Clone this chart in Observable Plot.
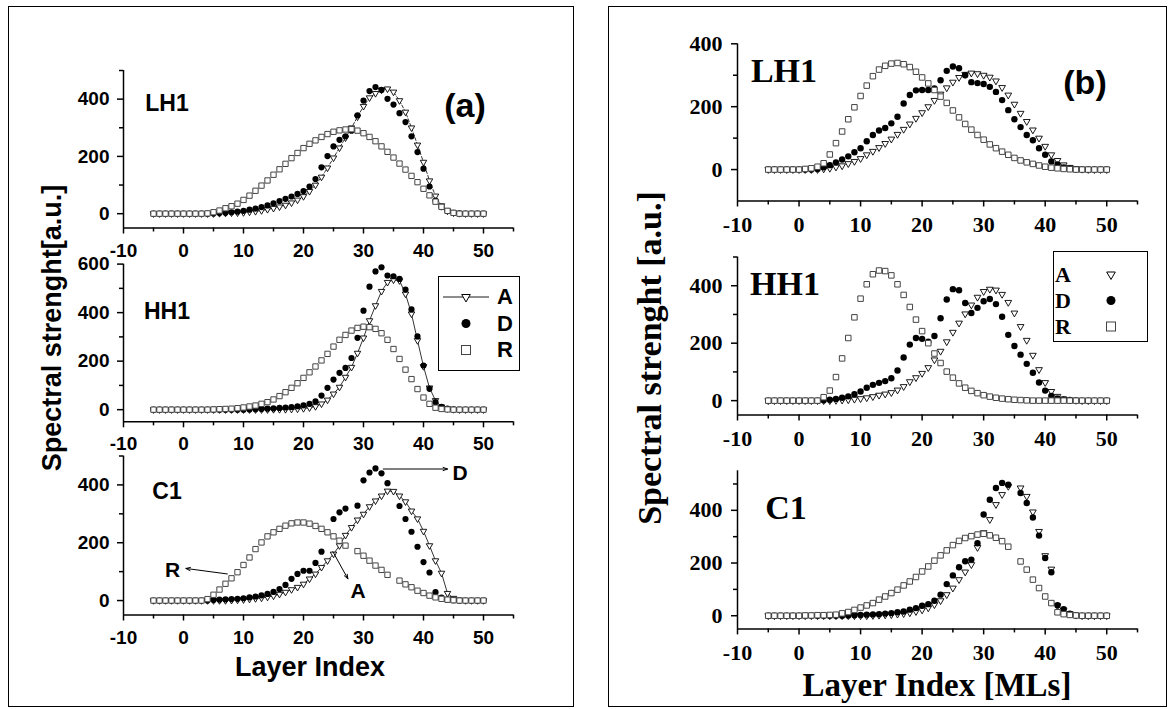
<!DOCTYPE html>
<html><head><meta charset="utf-8">
<script src="https://cdn.jsdelivr.net/npm/d3@7"></script>
<script src="https://cdn.jsdelivr.net/npm/@observablehq/plot@0.6"></script>
<style>
body{margin:0;background:#fff;}
#root{position:relative;width:1169px;height:709px;overflow:hidden;background:#fff;}
</style></head>
<body><div id="root"></div>
<script>
// ---------------- DATA ----------------
const layerIndex = [-5,-4,-3,-2,-1,0,1,2,3,4,5,6,7,8,9,10,11,12,13,14,15,16,17,18,19,20,21,22,23,24,25,26,27,28,29,30,31,32,33,34,35,36,37,38,39,40,41,42,43,44,45,46,47,48,49,50];
const seriesNames = ["A", "D", "R"];
const xDomain = [-10, 55];
const xMajorTicks = [-10, 0, 10, 20, 30, 40, 50];
const xMinorTicks = [-5, 5, 15, 25, 35, 45, 55];

// panel (a)
const a_LH1_A = [0,0,0,0,0,0,0,0,0,0, 0,1,2,3,3,4,6,8,11,15, 19,24,30,38,48,60,78,100,128,160, 195,230,265,300,338,375,405,420,432,436, 425,395,355,300,240,180,115,62,28,10, 3,1,0,0,0,0];
const a_LH1_D = [0,0,0,0,0,0,0,0,0,0, 1,2,3,5,7,10,14,18,23,29, 36,44,52,60,69,79,95,121,162,201, 235,258,270,290,343,395,428,442,432,401, 381,351,320,270,215,157,95,46,23,9, 3,1,0,0,0,0];
const a_LH1_R = [0,0,0,0,0,0,0,0,0,1, 5,11,19,26,35,48,63,80,98,116, 136,155,174,194,212,229,244,256,268,278, 286,291,294,295,290,281,268,253,235,216, 196,175,154,132,110,87,64,42,24,10, 3,0,0,0,0,0];

const a_HH1_A = [0,0,0,0,0,0,0,0,0,0, 0,0,0,0,0,0,0,0,0,0, 1,1,1,2,3,5,8,13,24,40, 65,93,134,175,233,296,367,429,488,525, 535,532,477,395,285,178,90,38,12,4, 1,0,0,0,0,0];
const a_HH1_D = [0,0,0,0,0,0,0,0,0,0, 0,0,0,0,0,0,1,2,3,4, 5,7,9,11,14,18,24,34,58,90, 124,152,172,213,296,408,507,570,587,553, 550,539,495,413,302,182,86,31,12,4, 1,0,0,0,0,0];
const a_HH1_R = [0,0,0,0,0,0,0,0,0,0, 1,2,3,4,6,9,13,17,24,31, 42,56,72,90,109,131,154,178,203,230, 260,288,308,326,337,342,340,333,315,288, 250,209,165,126,85,50,24,8,3,1, 0,0,0,0,0,0];

const a_C1_A = [0,0,0,0,0,0,0,0,0,0, 0,0,0,1,2,3,5,7,9,12, 16,22,29,38,46,57,75,92,115,138, 161,190,226,253,279,299,325,345,362,379, 378,362,342,310,283,240,190,138,95,25, 8,2,0,0,0,0];
const a_C1_D = [0,0,0,0,0,0,0,0,0,0, 2,3,4,5,6,8,11,14,18,23, 30,40,54,75,92,103,103,130,169,null, 282,305,318,null,328,416,443,457,440,406, null,327,282,238,186,133,97,29,10,3, 1,0,0,0,0,0];
const a_C1_R = [0,0,0,0,0,0,0,0,0,5, 20,38,58,77,98,123,149,178,201,222, 236,248,259,267,270,270,266,258,248,236, 222,207,190,null,171,155,138,121,106,89, null,69,56,46,34,26,17,11,6,3, 1,0,0,0,0,0];

// panel (b)
const b_LH1_A = [0,0,0,0,0,0,0,0,0,2, 4,8,12,19,26,35,47,58,70,83, 97,112,128,145,163,181,200,220,240,260, 278,293,303,307,305,300,294,282,261,237, 208,179,153,126,100,74,47,29,15,7, 3,1,0,0,0,0];
const b_LH1_D = [0,0,0,0,0,0,0,0,2,7, 14,23,32,42,55,68,90,110,124,132, 147,168,210,237,252,253,253,258,284,314, 328,322,300,278,275,272,263,247,221,189, 160,135,110,93,68,47,26,16,7,3, 1,0,0,0,0,0];
const b_LH1_R = [0,0,0,0,0,0,2,4,9,20, 48,84,121,160,198,234,267,297,318,330, 337,339,335,326,311,293,274,253,232,212, 188,166,145,127,110,95,80,68,57,47, 37,29,23,18,13,9,6,4,2,1, 0,0,0,0,0,0];

const b_HH1_A = [0,0,0,0,0,0,0,0,0,0, 0,1,2,3,5,7,10,14,19,23, 28,37,49,66,80,95,115,142,172,205, 238,270,302,333,360,380,388,385,370,342, 305,258,210,158,108,63,32,15,6,2, 1,0,0,0,0,0];
const b_HH1_D = [0,0,0,0,0,0,0,0,0,1, 3,6,10,15,22,32,45,55,62,68, 78,105,150,195,218,215,205,225,287,352, 388,384,340,305,323,346,354,336,292,229, 190,160,128,97,63,35,16,8,4,2, 1,0,0,0,0,0];
const b_HH1_R = [0,0,0,0,0,0,0,0,0,12, 35,82,147,218,290,355,405,440,453,451, 436,405,368,326,282,242,200,164,131,101, 80,60,45,34,26,19,14,10,7,5, 3,2,1,0,0,0,0,0,0,0, 0,0,0,0,0,0];

const b_C1_A = [0,0,0,0,0,0,0,0,0,0, 0,0,0,0,0,0,0,1,2,3, 4,6,8,11,16,22,30,42,57,80, 105,137,166,194,259,315,365,422,460,491, null,485,453,394,320,228,177,38,22,8, 2,0,0,0,0,0];
const b_C1_D = [0,0,0,0,0,0,0,0,0,0, 0,0,0,1,2,3,4,5,6,8, 10,13,16,23,29,38,44,57,80,120, 153,184,207,213,275,384,440,485,504,497, null,466,428,373,304,219,165,40,25,8, 2,0,0,0,0,0];
const b_C1_R = [0,0,0,0,0,0,1,1,2,2, 3,4,9,14,22,31,39,48,61,73, 86,99,115,130,147,168,187,209,229,248, 268,284,295,302,308,311,305,296,283,262, null,206,175,137,105,73,48,13,6,3, 1,0,0,0,0,0];

// y axis tick labels
const aLH1_yMajor = [0, 200, 400], aLH1_yMinor = [100, 300, 500];
const aHH1_yMajor = [0, 200, 400, 600], aHH1_yMinor = [100, 300, 500];
const aC1_yMajor = [0, 200, 400], aC1_yMinor = [100, 300, 500];
const bLH1_yMajor = [0, 200, 400], bLH1_yMinor = [100, 300];
const bHH1_yMajor = [0, 200, 400], bHH1_yMinor = [100, 300, 500];
const bC1_yMajor = [0, 200, 400], bC1_yMinor = [100, 300, 500];

// annotations of panel (a) C1 (arrow start/end and label, data units)
const annotLabel = ["D", "R", "A"];
const annotX1 = [33.3, 7.3, 24.9];
const annotY1 = [455, 92, 169];
const annotX2 = [44.0, 0.4, 27.4];
const annotY2 = [455, 111, 75];
const annotTx = [46.1, -1.8, 29.1];
const annotTy = [440, 106, 33];

// ---------------- DRAWING ----------------
const SANS = "'Liberation Sans', Arial, Helvetica, sans-serif";
const SERIF = "'Liberation Serif', 'Times New Roman', Times, serif";
const root = document.getElementById("root");

function rows(vals) {
  return layerIndex.map((x, i) => ({x, y: vals[i]})).filter(d => d.y != null);
}

function addText(txt, cx, cy, size, family, rotate = 0) {
  const d = document.createElement("div");
  d.textContent = txt;
  Object.assign(d.style, {
    position: "absolute", left: cx + "px", top: cy + "px",
    transform: `translate(-50%,-50%) rotate(${rotate}deg)`,
    font: `bold ${size}px ${family}`, lineHeight: "1", whiteSpace: "nowrap", color: "#000"
  });
  root.appendChild(d);
}

function addBox(l, t, w, h) {
  const d = document.createElement("div");
  Object.assign(d.style, {position: "absolute", left: l + "px", top: t + "px", width: w + "px", height: h + "px",
    border: "1.5px solid #000", boxSizing: "border-box"});
  root.appendChild(d);
}

function panel(cfg) {
  const fam = cfg.serif ? SERIF : SANS;
  const ml = cfg.xPx[0] - cfg.left, mr = cfg.left + cfg.width - cfg.xPx[1];
  const mt = cfg.yPx[1] - cfg.top, mb = cfg.top + cfg.height - cfg.yPx[0];
  const fs = cfg.fontSize;
  const marks = [
    Plot.axisX({ticks: xMajorTicks, tickSize: 6, tickPadding: cfg.padX, tickFormat: d => String(d), strokeWidth: 1.5, label: null, fontSize: fs, fontWeight: "bold", fontFamily: fam}),
    Plot.axisX({ticks: xMinorTicks, tickSize: 4, tickFormat: () => "", strokeWidth: 1.5, label: null}),
    Plot.axisY({ticks: cfg.yMajor, tickSize: 6, tickPadding: cfg.padY, tickFormat: d => String(d), strokeWidth: 1.5, label: null, fontSize: fs, fontWeight: "bold", fontFamily: fam}),
    Plot.axisY({ticks: cfg.yMinor, tickSize: 4, tickFormat: () => "", strokeWidth: 1.5, label: null}),
    Plot.ruleY([cfg.yDomain[0]], {x1: xDomain[0], x2: xDomain[1], strokeWidth: 1.5}),
    Plot.ruleX([xDomain[0]], {y1: cfg.yDomain[0], y2: cfg.yDomain[1], strokeWidth: 1.5}),
  ];
  const A = rows(cfg.A), D = rows(cfg.D), R = rows(cfg.R);
  if (cfg.lineA) marks.push(Plot.line(A, {x: "x", y: "y", stroke: "#000", strokeWidth: 0.8, strokeDasharray: cfg.dash || null}));
  marks.push(Plot.dot(A, {x: "x", y: "y", symbol: "triangle", rotate: 180, r: cfg.rTri, fill: "white", stroke: "#000", strokeWidth: 0.9}));
  marks.push(Plot.dot(D, {x: "x", y: "y", symbol: "circle", r: cfg.rCir, fill: "#000", stroke: "none"}));
  marks.push(Plot.dot(R, {x: "x", y: "y", symbol: "square", r: cfg.rSq, fill: "white", stroke: "#444", strokeWidth: 1}));
  if (cfg.annot) {
    const ar = annotLabel.map((t, i) => ({t, x1: annotX1[i], y1: annotY1[i], x2: annotX2[i], y2: annotY2[i], tx: annotTx[i], ty: annotTy[i]}));
    marks.push(Plot.arrow(ar, {x1: "x1", y1: "y1", x2: "x2", y2: "y2", stroke: "#000", strokeWidth: 1, headLength: 7, headAngle: 40}));
    marks.push(Plot.text(ar, {x: "tx", y: "ty", text: "t", fontSize: 21, fontWeight: "bold", fontFamily: SANS, fill: "#000"}));
  }
  const svg = Plot.plot({
    width: cfg.width, height: cfg.height,
    marginLeft: ml, marginRight: mr, marginTop: mt, marginBottom: mb,
    x: {domain: xDomain, label: null},
    y: {domain: cfg.yDomain, label: null},
    style: {background: "transparent", overflow: "visible", fontFamily: fam, fontSize: fs + "px", fontWeight: "bold", color: "#000", maxWidth: "none"},
    marks
  });
  const wrap = document.createElement("div");
  Object.assign(wrap.style, {position: "absolute", left: cfg.left + "px", top: cfg.top + "px"});
  wrap.appendChild(svg);
  root.appendChild(wrap);
}

function legend(l, t, w, h, entries, textX, symX, family, withLine) {
  addBox(l, t, w, h);
  const svg = d3.select(root).append("svg")
    .style("position", "absolute").style("left", "0px").style("top", "0px")
    .attr("width", 1169).attr("height", 709).style("overflow", "visible").style("pointer-events", "none");
  entries.forEach(e => {
    if (withLine && e.name === "A") svg.append("line").attr("x1", symX - 23).attr("x2", symX + 23).attr("y1", e.y).attr("y2", e.y).attr("stroke", "#000").attr("stroke-width", 0.9);
    if (e.name === "A") svg.append("path").attr("d", d3.symbol(d3.symbolTriangle, Math.PI * 3.2 * 3.2)()).attr("transform", `translate(${symX},${e.y}) rotate(180)`).attr("fill", "white").attr("stroke", "#000").attr("stroke-width", 1);
    if (e.name === "D") svg.append("circle").attr("cx", symX).attr("cy", e.y).attr("r", 4.5).attr("fill", "#000");
    if (e.name === "R") svg.append("rect").attr("x", symX - 4.5).attr("y", e.y - 4.5).attr("width", 9).attr("height", 9).attr("fill", "white").attr("stroke", "#444").attr("stroke-width", 1);
    addText(e.name, textX, e.y, 22, family);
  });
}

// frames
addBox(8, 6, 566, 701);
addBox(608, 6, 559, 701);

// panel (a)
const aCommon = {left: 0, width: 560, xPx: [123, 513], serif: false, fontSize: 19, padX: 9, padY: 8, rTri: 2.4, rCir: 3.1, rSq: 3.0, lineA: true};
panel({...aCommon, top: 40, height: 230, yPx: [227.5, 70], yDomain: [-50, 500], yMajor: aLH1_yMajor, yMinor: aLH1_yMinor, A: a_LH1_A, D: a_LH1_D, R: a_LH1_R, dash: "3,2"});
panel({...aCommon, top: 245, height: 215, yPx: [421.3, 263.6], yDomain: [-50, 600], yMajor: aHH1_yMajor, yMinor: aHH1_yMinor, A: a_HH1_A, D: a_HH1_D, R: a_HH1_R});
panel({...aCommon, top: 440, height: 210, yPx: [614.5, 455.5], yDomain: [-50, 500], yMajor: aC1_yMajor, yMinor: aC1_yMinor, A: a_C1_A, D: a_C1_D, R: a_C1_R, annot: true});

// panel (b)
const bCommon = {left: 620, width: 540, xPx: [737, 1137], serif: true, fontSize: 22, padX: 9, padY: 9, rTri: 2.5, rCir: 3.2, rSq: 3.1, lineA: false};
panel({...bCommon, top: 20, height: 220, yPx: [200.5, 43.3], yDomain: [-100, 400], yMajor: bLH1_yMajor, yMinor: bLH1_yMinor, A: b_LH1_A, D: b_LH1_D, R: b_LH1_R});
panel({...bCommon, top: 240, height: 220, yPx: [414.5, 256.5], yDomain: [-50, 500], yMajor: bHH1_yMajor, yMinor: bHH1_yMinor, A: b_HH1_A, D: b_HH1_D, R: b_HH1_R});
panel({...bCommon, top: 450, height: 220, yPx: [628.4, 470.3], yDomain: [-50, 550], yMajor: bC1_yMajor, yMinor: bC1_yMinor, A: b_C1_A, D: b_C1_D, R: b_C1_R});

// titles and labels
addText("Spectral strenght[a.u.]", 52, 328, 27, SANS, -90);
addText("Layer Index", 310, 667, 27, SANS);
addText("LH1", 167, 103, 23, SANS);
addText("HH1", 167, 311, 23, SANS);
addText("C1", 167, 491, 23, SANS);
addText("(a)", 465, 105, 34, SANS);

addText("Spectral strenght [a.u.]", 650, 358, 34, SERIF, -90);
addText("Layer Index [MLs]", 937, 685, 33, SERIF);
addText("LH1", 784, 71, 34, SERIF);
addText("HH1", 785, 284, 34, SERIF);
addText("C1", 786, 508, 34, SERIF);
addText("(b)", 1085, 82, 34, SANS);

legend(438, 276, 82, 95, [{name: "A", y: 297}, {name: "D", y: 323.5}, {name: "R", y: 350}], 505, 466, SANS, true);
legend(1053, 251, 95, 91, [{name: "A", y: 274.5}, {name: "D", y: 300.5}, {name: "R", y: 326.5}], 1063, 1111, SERIF, false);
</script>
</body></html>
